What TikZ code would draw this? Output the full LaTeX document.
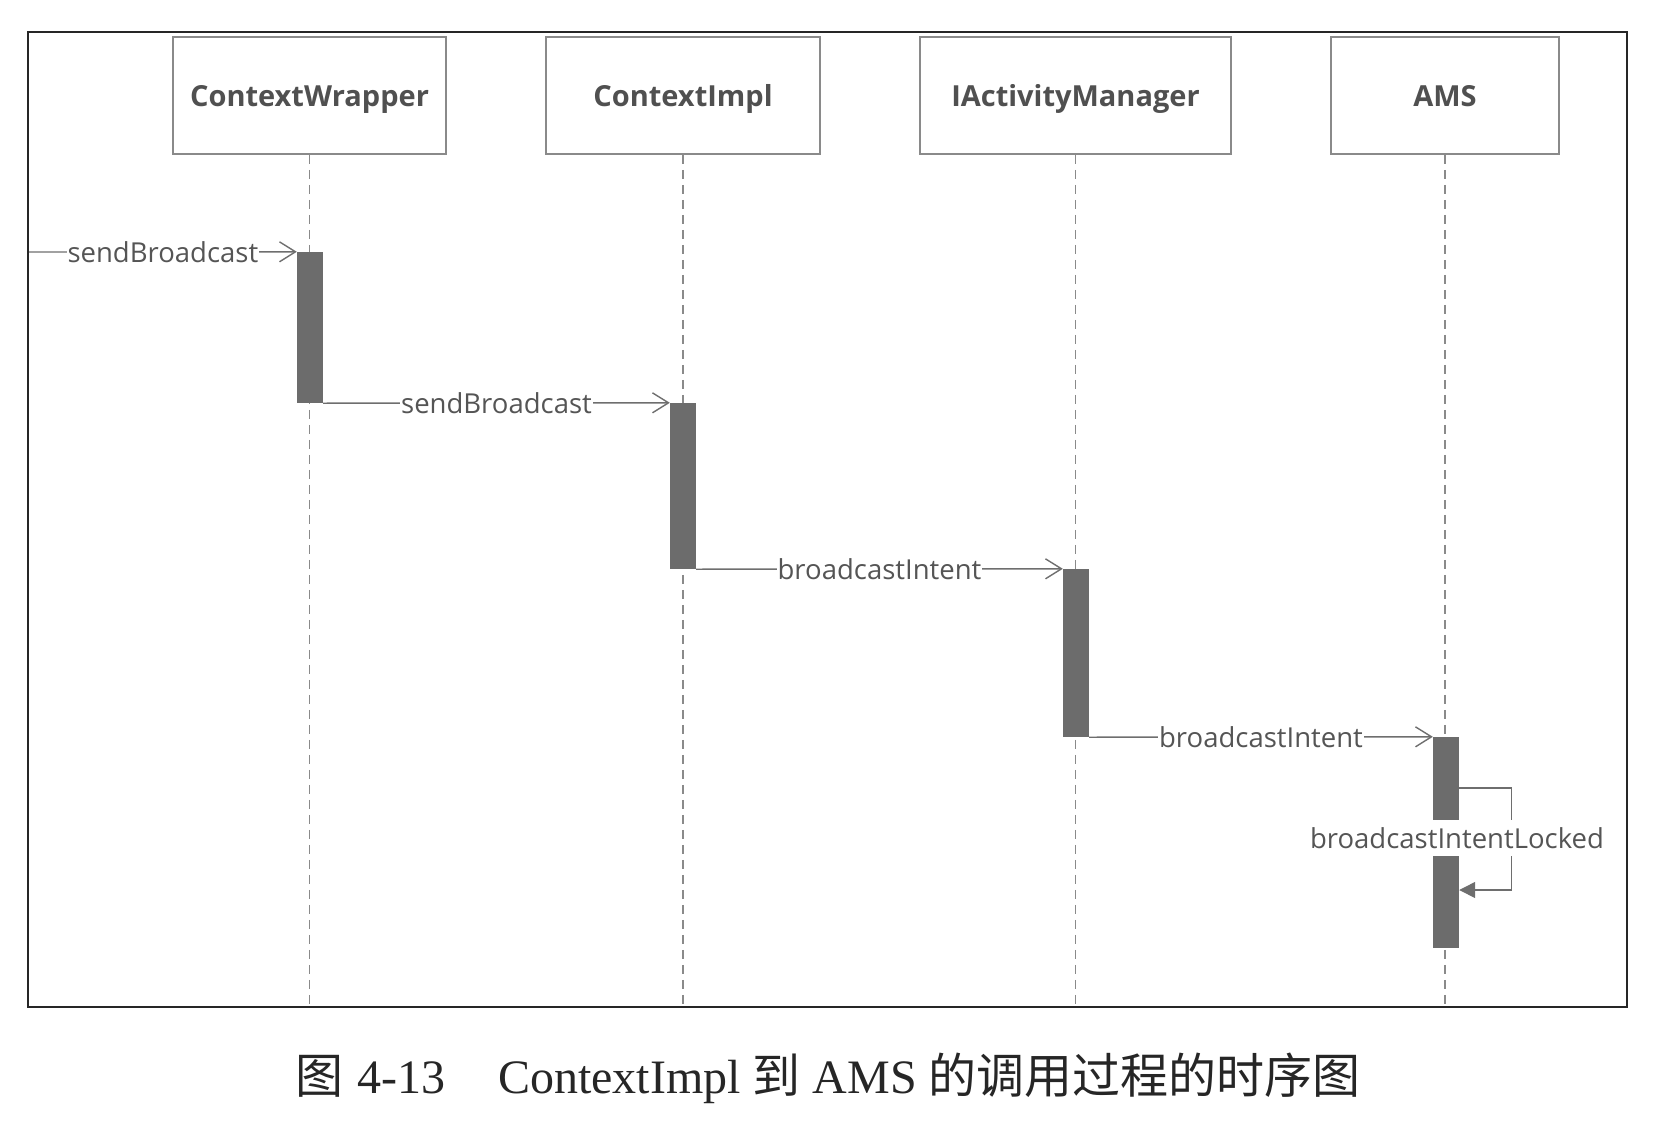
\documentclass[tikz,border=0pt]{standalone}
\usepackage{fontspec}
\setmainfont{Liberation Serif}
\newfontfamily\uifont{Open Sans}
\newfontfamily\cjk{Noto Sans CJK SC}
\usetikzlibrary{arrows.meta}
\definecolor{boxline}{HTML}{8A8A8A}
\definecolor{boxtext}{HTML}{505050}
\definecolor{msgtext}{HTML}{555555}
\definecolor{msgline}{HTML}{6E6E6E}
\definecolor{barfill}{HTML}{6C6C6C}
\definecolor{framecol}{HTML}{262626}
\tikzset{
  objbox/.style={draw=boxline, line width=1.5pt, minimum height=117pt, inner sep=0pt,
    text height=21pt, text depth=0pt,
    font=\uifont\bfseries\fontsize{29}{32}\selectfont, text=boxtext},
  lifeline/.style={draw=boxline, line width=1.3pt, dash pattern=on 9pt off 6pt},
  actbar/.style={fill=barfill, draw=none, minimum width=26pt, inner sep=0pt},
  msg/.style={draw=msgline, line width=1.4pt, -{Straight Barb[length=16pt,width=20pt,line width=1.4pt]}},
  msglabel/.style={fill=white, inner xsep=1pt, inner ysep=2pt, text=msgtext,
    font=\uifont\fontsize{27.5}{30}\selectfont},
  selfmsg/.style={draw=msgline, line width=1.4pt, -{Triangle[length=16pt,width=16pt]}}
}
\begin{document}
\begin{tikzpicture}[x=1pt,y=-1pt]
\useasboundingbox (0,0) rectangle (1662,1132);
% frame
\draw[framecol, line width=2pt] (28,32) rectangle (1627,1007);
% object boxes
\node[objbox, minimum width=273pt] (cw) at (309.5,95.5) {ContextWrapper};
\node[objbox, minimum width=274pt] (ci) at (683,95.5) {ContextImpl};
\node[objbox, minimum width=311pt] (iam) at (1075.5,95.5) {IActivityManager};
\node[objbox, minimum width=228pt] (ams) at (1445,95.5) {AMS};
% lifeline ends
\coordinate (cwend) at (309.5,1007);
\coordinate (ciend) at (683,1007);
\coordinate (iamend) at (1075.5,1007);
\coordinate (amsend) at (1445,1007);
\draw[lifeline] (cw.south) -- (cwend);
\draw[lifeline] (ci.south) -- (ciend);
\draw[lifeline] (iam.south) -- (iamend);
\draw[lifeline] (ams.south) -- (amsend);
% activation bars
\node[actbar, minimum height=151pt] (a1) at (310,327.5) {};
\node[actbar, minimum height=166pt] (a2) at (683,486) {};
\node[actbar, minimum height=168pt] (a3) at (1076,653) {};
\node[actbar, minimum height=211pt] (a4) at (1446,842.5) {};
% messages
\coordinate (start) at (29,252);
\draw[msg] (start) -- (a1.north west) node[midway, msglabel] {sendBroadcast};
\draw[msg] (a1.south east) -- (a2.north west) node[midway, msglabel] {sendBroadcast};
\draw[msg] (a2.south east) -- (a3.north west) node[midway, msglabel] {broadcastIntent};
\draw[msg] (a3.south east) -- (a4.north west) node[midway, msglabel] {broadcastIntent};
% self call
\draw[selfmsg] ([yshift=54.5pt]a4.east) -- ++(52,0) -- ++(0,102) -- ([yshift=-47.5pt]a4.east);
\node[msglabel, inner ysep=7pt] (lock) at (1457,838) {broadcastIntentLocked};
% caption
\node[text=framecol, font=\fontsize{48}{54}\selectfont] (cap) at (828,1078)
  {{\cjk 图}\hspace{0.3em}4-13\hspace{1.1em}ContextImpl {\cjk 到} AMS {\cjk 的调用过程的时序图}};
\end{tikzpicture}
\end{document}
